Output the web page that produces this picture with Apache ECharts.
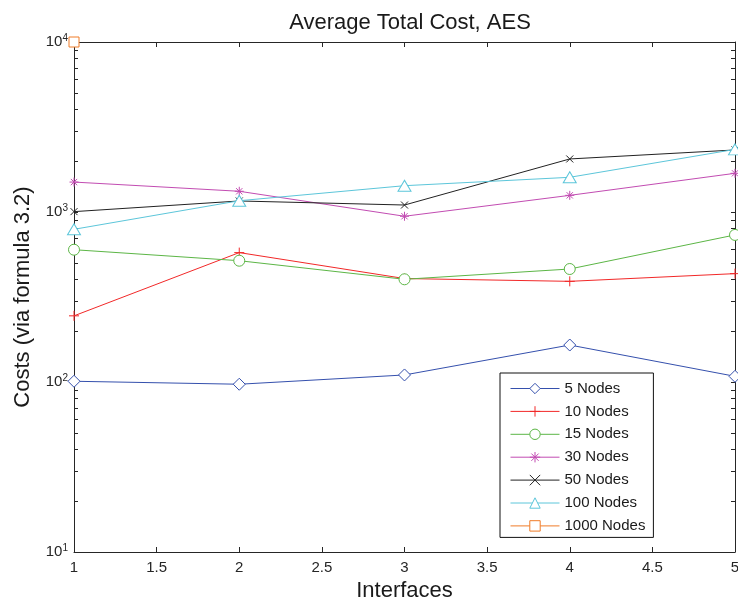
<!DOCTYPE html>
<html><head><meta charset="utf-8">
<script src="https://cdn.jsdelivr.net/npm/echarts@6/dist/echarts.min.js"></script>
<style>html,body{margin:0;padding:0;background:#fff}#c{width:738px;height:602px}</style>
</head><body><div id="c"></div>
<script>
const interfaces = [1, 2, 3, 4, 5];
const xTicks = [1, 1.5, 2, 2.5, 3, 3.5, 4, 4.5, 5];
const yMajorTicks = [10, 100, 1000, 10000];
const nodes5 = [101, 97, 110, 165, 108];
const nodes10 = [245, 577, 406, 391, 434];
const nodes15 = [600, 517, 402, 462, 733];
const nodes30 = [1500, 1324, 944, 1253, 1689];
const nodes50 = [1005, 1161, 1099, 2051, 2317];
const nodes100 = [791, 1165, 1428, 1600, 2335];
const nodes1000 = [10000];

const FONT = '"Liberation Sans", Arial, sans-serif';
const AX = '#262626';
const minorVals = [];
[10, 100, 1000].forEach(d => { for (let k = 1; k <= 9; k++) minorVals.push(d * k); });
minorVals.push(10000);

const P = {
  plus: 'path://M5,0L5,10M0,5L10,5',
  cross: 'path://M0,0L10,10M10,0L0,10',
  star: 'path://M5,0L5,10M0,5L10,5M1.5,1.5L8.5,8.5M8.5,1.5L1.5,8.5',
  diamond: 'path://M5,0L10,5L5,10L0,5Z',
  circle: 'path://M0,5A5,5,0,1,1,10,5A5,5,0,1,1,0,5Z',
  triangle: 'path://M5,0L10,8.7L0,8.7Z',
  square: 'path://M0,0L10,0L10,10L0,10Z'
};
function pairs(arr) { return arr.map((v, i) => [interfaces[i], v]); }
function mk(name, data, color, symbol, size, hollow) {
  return {
    name, type: 'line', data: pairs(data), symbol, symbolSize: size, clip: false,
    showAllSymbol: true,
    lineStyle: { color, width: 1 },
    itemStyle: { color: hollow ? '#fff' : color, borderColor: color, borderWidth: 1 },
    emphasis: { disabled: true }
  };
}
const series = [
  mk('5 Nodes', nodes5, '#3550ad', P.diamond, 12, true),
  mk('10 Nodes', nodes10, '#f22828', P.plus, 10, false),
  mk('15 Nodes', nodes15, '#5cb646', P.circle, 11, true),
  mk('30 Nodes', nodes30, '#c24cb2', P.star, 9, false),
  mk('50 Nodes', nodes50, '#222222', P.cross, 7, false),
  mk('100 Nodes', nodes100, '#5cc6da', P.triangle, [13, 11], true),
  mk('1000 Nodes', nodes1000, '#f07c28', P.square, 10, true)
];
const chart = echarts.init(document.getElementById('c'));
const xBase = {
  type: 'value', min: 1, max: 5, interval: 0.5,
  axisLine: { lineStyle: { color: AX, width: 1 } },
  axisTick: { inside: true, length: 5, lineStyle: { color: AX } },
  splitLine: { show: false }
};
const yBase = {
  type: 'log', logBase: 10, min: 10, max: 10000,
  axisLine: { show: true, lineStyle: { color: AX, width: 1 } },
  axisTick: { show: true, inside: true, length: 4, customValues: minorVals, lineStyle: { color: AX } },
  splitLine: { show: false }, minorSplitLine: { show: false }
};
chart.setOption({
  animation: false,
  backgroundColor: '#fff',
  title: { text: 'Average Total Cost, AES', left: 405, textAlign: 'center', top: 7,
    textStyle: { fontFamily: FONT, fontSize: 22, fontWeight: 'normal', color: '#1a1a1a' } },
  grid: { left: 74, top: 42, right: 3, bottom: 50, outerBoundsMode: 'none', containLabel: false },
  legend: {
    left: 500, top: 373, orient: 'vertical',
    data: series.map(s => s.name),
    itemWidth: 49, itemHeight: 13, itemGap: 7.9,
    padding: [8, 8, 4, 10],
    lineStyle: { width: 1 },
    itemStyle: { borderWidth: 1 },
    borderColor: '#111', borderWidth: 1, backgroundColor: '#fff',
    textStyle: { fontFamily: FONT, fontSize: 15, color: '#1a1a1a', padding: [0, 0, 0, 0] },
    selectedMode: false
  },
  xAxis: [
    Object.assign({}, xBase, { position: 'bottom',
      name: 'Interfaces', nameLocation: 'middle', nameGap: 24,
      nameTextStyle: { fontFamily: FONT, fontSize: 22, color: '#1a1a1a' },
      axisLabel: { fontFamily: FONT, fontSize: 15, color: '#262626', margin: 8,
        customValues: xTicks,
        formatter: v => String(v) } }),
    Object.assign({}, xBase, { position: 'top', axisLabel: { show: false } })
  ],
  yAxis: [
    Object.assign({}, yBase, { position: 'left',
      name: 'Costs (via formula 3.2)', nameLocation: 'middle', nameGap: 40, nameRotate: 90,
      nameTextStyle: { fontFamily: FONT, fontSize: 22, color: '#1a1a1a' },
      axisLabel: { fontFamily: FONT, fontSize: 15, color: '#262626', margin: 6,
        customValues: yMajorTicks,
        formatter: v => '10{s|' + Math.round(Math.log10(v)) + '}',
        rich: { s: { fontFamily: FONT, fontSize: 10, color: '#262626', verticalAlign: 'top', padding: [0, 0, 8, 0] } } } }),
    Object.assign({}, yBase, { position: 'right', axisLabel: { show: false } })
  ],
  series
});
</script></body></html>
